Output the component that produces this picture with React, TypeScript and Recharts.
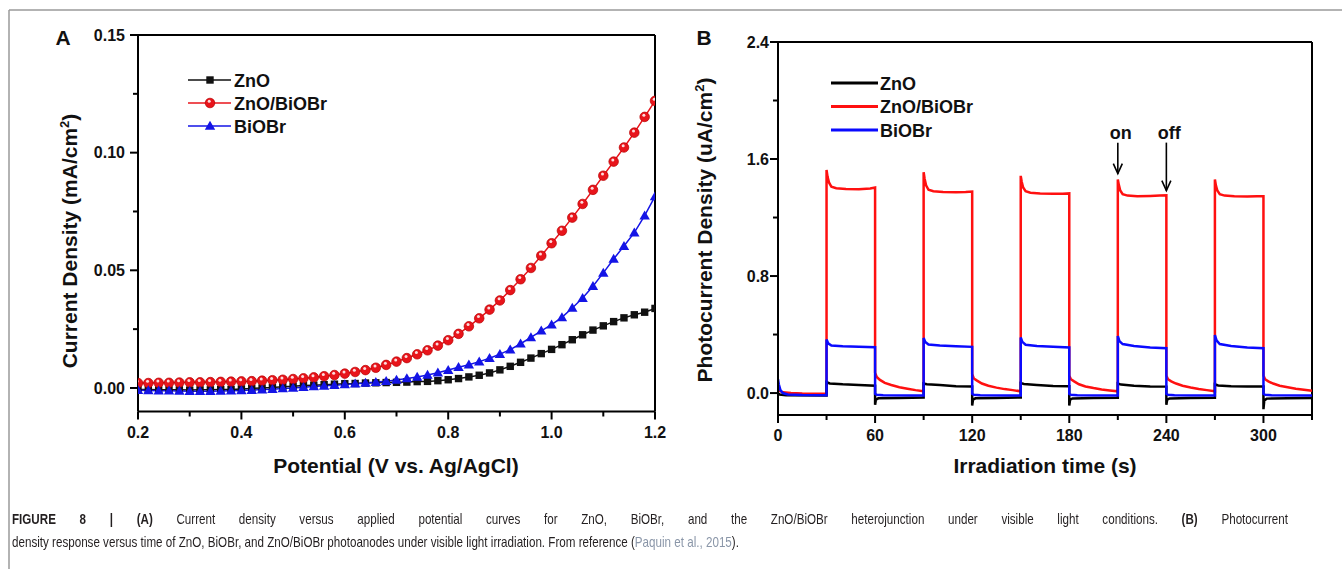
import React from 'react';
import { LineChart, Line, XAxis, YAxis, ReferenceLine, ReferenceDot, Legend } from 'recharts';

// ---- panel A: linear sweep (current density vs potential) ----
const potential = [
  0.2, 0.22, 0.24, 0.26, 0.28, 0.3, 0.32, 0.34, 0.36, 0.38,
  0.4, 0.42, 0.44, 0.46, 0.48, 0.5, 0.52, 0.54, 0.56, 0.58,
  0.6, 0.62, 0.64, 0.66, 0.68, 0.7, 0.72, 0.74, 0.76, 0.78,
  0.8, 0.82, 0.84, 0.86, 0.88, 0.9, 0.92, 0.94, 0.96, 0.98,
  1.0, 1.02, 1.04, 1.06, 1.08, 1.1, 1.12, 1.14, 1.16, 1.18, 1.2,
];
const znoJ = [
  -0.0007, -0.0007, -0.0008, -0.0008, -0.0008, -0.0009, -0.0008, -0.0008, -0.0007, -0.0006,
  -0.0004, -0.0002, 0.0, 0.0002, 0.0005, 0.0007, 0.001, 0.0012, 0.0014, 0.0016,
  0.0018, 0.0019, 0.0021, 0.0022, 0.0023, 0.0024, 0.0025, 0.0027, 0.0028, 0.0031,
  0.0035, 0.004, 0.0047, 0.0054, 0.0064, 0.0077, 0.0092, 0.0109, 0.0127, 0.0146,
  0.0164, 0.0184, 0.0205, 0.0226, 0.0246, 0.0264, 0.0282, 0.0298, 0.0311, 0.0322, 0.0338,
];
const hetJ = [
  0.0021, 0.0021, 0.0022, 0.0022, 0.0023, 0.0024, 0.0024, 0.0025, 0.0026, 0.0027,
  0.0028, 0.0029, 0.0031, 0.0033, 0.0035, 0.0038, 0.0041, 0.0045, 0.005, 0.0055,
  0.0061, 0.0068, 0.0076, 0.0086, 0.0098, 0.0112, 0.0127, 0.0143, 0.016, 0.018,
  0.0203, 0.023, 0.0262, 0.0296, 0.0333, 0.0372, 0.0416, 0.0462, 0.051, 0.0562,
  0.0615, 0.0668, 0.0724, 0.0782, 0.0842, 0.0902, 0.0962, 0.1022, 0.1085, 0.1152, 0.122,
];
const biobrJ = [
  -0.001, -0.0011, -0.0012, -0.0012, -0.0013, -0.0014, -0.0014, -0.0014, -0.0013, -0.0012,
  -0.0011, -0.0009, -0.0007, -0.0005, -0.0002, 0.0, 0.0003, 0.0006, 0.0009, 0.0012,
  0.0015, 0.0018, 0.0021, 0.0025, 0.0029, 0.0034, 0.004, 0.0047, 0.0055, 0.0065,
  0.0076, 0.0088, 0.0099, 0.0112, 0.0126, 0.0144, 0.0163, 0.0188, 0.0215, 0.0243,
  0.0269, 0.03, 0.034, 0.0382, 0.0432, 0.0489, 0.0548, 0.0603, 0.066, 0.0732, 0.0814,
];
const xTicksA = [0.2, 0.3, 0.4, 0.5, 0.6, 0.7, 0.8, 0.9, 1.0, 1.1, 1.2];
const xLabelsA = [0.2, 0.4, 0.6, 0.8, 1.0, 1.2];
const yTicksA = [0, 0.025, 0.05, 0.075, 0.1, 0.125, 0.15];
const yLabelsA = [0, 0.05, 0.1, 0.15];

// ---- panel B: chopped-light photocurrent (t [s], J) ----
const znoTrace: [number, number][] = [
  [0, 0.0], [1, -0.01], [5, -0.015], [30, -0.016],
  [30, 0.075], [32, 0.066], [40, 0.06], [50, 0.055], [60, 0.05],
  [60, -0.08], [60.5, -0.045], [62, -0.036], [75, -0.033], [90, -0.03],
  [90, 0.065], [92, 0.06], [100, 0.055], [110, 0.047], [120, 0.045],
  [120, -0.085], [120.5, -0.045], [122, -0.036], [135, -0.034], [150, -0.03],
  [150, 0.068], [152, 0.062], [160, 0.055], [170, 0.048], [180, 0.046],
  [180, -0.085], [180.5, -0.045], [182, -0.037], [195, -0.034], [210, -0.032],
  [210, 0.065], [212, 0.058], [220, 0.05], [230, 0.045], [240, 0.044],
  [240, -0.08], [240.5, -0.045], [242, -0.037], [255, -0.034], [270, -0.032],
  [270, 0.06], [272, 0.052], [280, 0.046], [290, 0.044], [300, 0.044],
  [300, -0.11], [300.5, -0.05], [302, -0.038], [315, -0.035], [330, -0.034],
];
const hetTrace: [number, number][] = [
  [0, 0.03], [1, 0.015], [3, 0.005], [8, 0.0], [15, -0.003], [30, -0.005],
  [30, 1.525], [30.6, 1.48], [31.5, 1.44], [33, 1.41], [36, 1.4], [42, 1.395], [50, 1.393], [57, 1.398], [60, 1.405],
  [60, 0.14], [61, 0.11], [63, 0.09], [66, 0.07], [70, 0.055], [75, 0.04], [80, 0.03], [85, 0.02], [90, 0.012],
  [90, 1.51], [90.6, 1.465], [91.5, 1.42], [93, 1.39], [96, 1.38], [102, 1.375], [110, 1.372], [116, 1.375], [120, 1.378],
  [120, 0.13], [121, 0.1], [123, 0.085], [126, 0.065], [130, 0.05], [135, 0.037], [140, 0.027], [145, 0.02], [150, 0.012],
  [150, 1.485], [150.6, 1.445], [151.5, 1.405], [153, 1.38], [156, 1.37], [162, 1.365], [170, 1.362], [176, 1.362], [180, 1.365],
  [180, 0.12], [181, 0.095], [183, 0.08], [186, 0.06], [190, 0.045], [195, 0.034], [200, 0.025], [205, 0.018], [210, 0.012],
  [210, 1.46], [210.6, 1.425], [211.5, 1.385], [213, 1.36], [216, 1.35], [222, 1.345], [230, 1.348], [236, 1.35], [240, 1.352],
  [240, 0.12], [241, 0.095], [243, 0.08], [246, 0.065], [250, 0.05], [255, 0.038], [260, 0.028], [265, 0.02], [270, 0.012],
  [270, 1.46], [270.6, 1.42], [271.5, 1.385], [273, 1.36], [276, 1.35], [282, 1.345], [290, 1.343], [296, 1.345], [300, 1.345],
  [300, 0.12], [301, 0.095], [303, 0.08], [306, 0.065], [310, 0.05], [315, 0.04], [320, 0.03], [325, 0.022], [330, 0.015],
];
const biobrTrace: [number, number][] = [
  [0, 0.095], [0.5, 0.06], [1.5, 0.02], [3, 0.0], [6, -0.01], [15, -0.014], [30, -0.015],
  [30, 0.366], [31, 0.34], [33, 0.325], [40, 0.32], [50, 0.316], [60, 0.314],
  [60, -0.005], [61, -0.012], [65, -0.015], [90, -0.016],
  [90, 0.377], [91, 0.35], [93, 0.332], [100, 0.325], [110, 0.32], [120, 0.316],
  [120, -0.005], [121, -0.012], [125, -0.015], [150, -0.016],
  [150, 0.38], [151, 0.35], [153, 0.33], [160, 0.322], [170, 0.316], [180, 0.311],
  [180, -0.005], [181, -0.012], [185, -0.015], [210, -0.016],
  [210, 0.39], [211, 0.355], [213, 0.335], [220, 0.322], [230, 0.312], [240, 0.306],
  [240, -0.005], [241, -0.012], [245, -0.015], [270, -0.016],
  [270, 0.397], [271, 0.36], [273, 0.335], [280, 0.322], [290, 0.312], [300, 0.306],
  [300, -0.005], [301, -0.012], [305, -0.015], [330, -0.016],
];
const xTicksB = [0, 30, 60, 90, 120, 150, 180, 210, 240, 270, 300, 330];
const xLabelsB = [0, 60, 120, 180, 240, 300];
const yTicksB = [0, 0.4, 0.8, 1.2, 1.6, 2.0, 2.4];
const yLabelsB = [0, 0.8, 1.6, 2.4];

const seriesNames = ['ZnO', 'ZnO/BiOBr', 'BiOBr'];

const FONT = '"Liberation Sans", Arial, Helvetica, sans-serif';
const RED_A = '#e8141b';
const BLUE_A = '#1414e6';
const RED_B = '#ff1010';
const BLUE_B = '#0a0aff';
const CAPTION_SQUEEZE = 0.775; // caption face in the figure is a condensed sans

const dataA = potential.map((v, i) => ({ v, zno: znoJ[i], het: hetJ[i], biobr: biobrJ[i] }));
const toPts = (arr: [number, number][]) => arr.map(([t, j]) => ({ t, j }));

const isIn = (list: number[], v: number) => list.some((m) => Math.abs(m - v) < 1e-6);

// draws its own tick line (major longer than minor) + label for major ticks
function makeTick(orient: 'bottom' | 'left', labels: number[], digits: number, gap: number) {
  return (p: any) => {
    const v = p.payload.value;
    const major = isIn(labels, v);
    const len = major ? 8 : 5;
    if (orient === 'bottom') {
      return (
        <g key={`xt${v}`}>
          <line x1={p.x} x2={p.x} y1={p.y} y2={p.y + len} stroke="#000" strokeWidth={2} />
          {major && (
            <text x={p.x} y={p.y + gap} dy="0.71em" textAnchor="middle" fontSize={16} fontWeight="bold" fontFamily={FONT} fill="#111">
              {v.toFixed(digits)}
            </text>
          )}
        </g>
      );
    }
    return (
      <g key={`yt${v}`}>
        <line x1={p.x - len} x2={p.x} y1={p.y} y2={p.y} stroke="#000" strokeWidth={2} />
        {major && (
          <text x={p.x - gap} y={p.y} dy="0.355em" textAnchor="end" fontSize={16} fontWeight="bold" fontFamily={FONT} fill="#111">
            {v.toFixed(digits)}
          </text>
        )}
      </g>
    );
  };
}

const squareDot = (p: any) =>
  p.cx == null ? null : <rect key={`s${p.index}`} x={p.cx - 3.7} y={p.cy - 3.7} width={7.4} height={7.4} fill="#111" />;
const ballDot = (p: any) =>
  p.cx == null ? null : (
    <g key={`b${p.index}`}>
      <circle cx={p.cx} cy={p.cy} r={4.8} fill={RED_A} stroke="#b80000" strokeWidth={0.7} />
      <circle cx={p.cx - 0.8} cy={p.cy - 1.7} r={1.5} fill="#fff" opacity={0.85} />
    </g>
  );
const triDot = (p: any) =>
  p.cx == null ? null : (
    <path key={`t${p.index}`} d={`M${p.cx},${p.cy - 5.2} L${p.cx + 5.2},${p.cy + 3.8} L${p.cx - 5.2},${p.cy + 3.8}Z`} fill={BLUE_A} />
  );

const legendA = () => {
  const colors = ['#111', RED_A, BLUE_A];
  const markers = [squareDot, ballDot, triDot];
  return (
    <svg width={220} height={70} style={{ display: 'block' }}>
      {seriesNames.map((n, i) => {
        const y = 9 + i * 23;
        return (
          <g key={n}>
            <line x1={0} x2={43} y1={y} y2={y} stroke={colors[i]} strokeWidth={1.6} />
            {markers[i]({ cx: 22, cy: y, index: 900 + i })}
            <text x={46} y={y + 6.5} fontSize={18} fontWeight="bold" fontFamily={FONT} fill="#111">{n}</text>
          </g>
        );
      })}
    </svg>
  );
};

const legendB = () => {
  const colors = ['#000', RED_B, BLUE_B];
  return (
    <svg width={220} height={70} style={{ display: 'block' }}>
      {seriesNames.map((n, i) => {
        const y = 10 + i * 23.5;
        return (
          <g key={n}>
            <line x1={0} x2={47} y1={y} y2={y} stroke={colors[i]} strokeWidth={3} />
            <text x={49} y={y + 6.5} fontSize={18} fontWeight="bold" fontFamily={FONT} fill="#111">{n}</text>
          </g>
        );
      })}
    </svg>
  );
};

const arrowShape = (label: string, len: number) => (p: any) => {
  const { cx, cy } = p;
  return (
    <g>
      <line x1={cx} y1={cy - len} x2={cx} y2={cy} stroke="#000" strokeWidth={1.6} />
      <polyline points={`${cx - 4.5},${cy - 10} ${cx},${cy} ${cx + 4.5},${cy - 10}`} fill="none" stroke="#000" strokeWidth={1.6} />
      <text x={cx + 3} y={cy - len - 4} textAnchor="middle" fontSize={18} fontWeight="bold" fontFamily={FONT} fill="#111">{label}</text>
    </g>
  );
};

const axisLine = { stroke: '#000', strokeWidth: 2 };

function PanelA() {
  return (
    <LineChart width={680} height={480} data={dataA} margin={{ top: 35, right: 25, bottom: 28.5, left: 78 }}>
      <XAxis dataKey="v" type="number" domain={[0.2, 1.2]} ticks={xTicksA} interval={0} allowDataOverflow
        tickSize={0} tickMargin={0} tickLine={false} axisLine={axisLine} height={40} tick={makeTick('bottom', xLabelsA, 1, 15)} />
      <YAxis type="number" domain={[-0.01, 0.15]} ticks={yTicksA} interval={0} allowDataOverflow
        tickSize={0} tickMargin={0} tickLine={false} axisLine={axisLine} width={60} tick={makeTick('left', yLabelsA, 2, 13)} />
      <ReferenceLine y={0.15} stroke="#000" strokeWidth={2} />
      <ReferenceLine x={1.2} stroke="#000" strokeWidth={2} />
      <Line dataKey="zno" stroke="#111" strokeWidth={1.5} dot={squareDot} isAnimationActive={false} />
      <Line dataKey="het" stroke={RED_A} strokeWidth={1.5} dot={ballDot} isAnimationActive={false} />
      <Line dataKey="biobr" stroke={BLUE_A} strokeWidth={1.5} dot={triDot} isAnimationActive={false} />
      <Legend layout="vertical" align="center" verticalAlign="middle" content={legendA}
        wrapperStyle={{ left: 188, top: 71, width: 220, height: 70 }} />
    </LineChart>
  );
}

function PanelB() {
  return (
    <LineChart width={662} height={480} margin={{ top: 42, right: 30, bottom: 25, left: 38 }}>
      <XAxis dataKey="t" type="number" domain={[0, 330]} ticks={xTicksB} interval={0} allowDataOverflow
        tickSize={0} tickMargin={0} tickLine={false} axisLine={axisLine} height={40} tick={makeTick('bottom', xLabelsB, 0, 15)} />
      <YAxis type="number" domain={[-0.15, 2.4]} ticks={yTicksB} interval={0} allowDataOverflow
        tickSize={0} tickMargin={0} tickLine={false} axisLine={axisLine} width={60} tick={makeTick('left', yLabelsB, 1, 9)} />
      <ReferenceLine y={2.4} stroke="#000" strokeWidth={2} />
      <ReferenceLine x={330} stroke="#000" strokeWidth={2} />
      <Line data={toPts(hetTrace)} dataKey="j" stroke={RED_B} strokeWidth={2.5} dot={false} isAnimationActive={false} />
      <Line data={toPts(znoTrace)} dataKey="j" stroke="#000" strokeWidth={2.5} dot={false} isAnimationActive={false} />
      <Line data={toPts(biobrTrace)} dataKey="j" stroke={BLUE_B} strokeWidth={2.5} dot={false} isAnimationActive={false} />
      <ReferenceDot x={210} y={1.5} r={0} shape={arrowShape('on', 31)} />
      <ReferenceDot x={240} y={1.384} r={0} shape={arrowShape('off', 48)} />
      <Legend layout="vertical" align="center" verticalAlign="middle" content={legendB}
        wrapperStyle={{ left: 151, top: 73, width: 220, height: 70 }} />
    </LineChart>
  );
}

export default function App() {
  const title = { fontSize: 21, fontWeight: 'bold' as const, fontFamily: FONT, fill: '#111' };
  const caption: React.CSSProperties = {
    position: 'absolute', left: 0, fontFamily: FONT, fontSize: 15, lineHeight: '18px', color: '#231f20',
  };
  return (
    <div style={{ position: 'absolute', left: 0, top: 0, width: 1342, height: 569, background: '#fff' }}>
      <svg width={1342} height={569} style={{ position: 'absolute', left: 0, top: 0 }}>
        <line x1={9} y1={10} x2={1342} y2={10} stroke="#9a9a9a" strokeWidth={1.5} />
        <line x1={9} y1={10} x2={9} y2={569} stroke="#9a9a9a" strokeWidth={1.5} />
        <text x={63} y={45} textAnchor="middle" {...title}>A</text>
        <text x={704} y={45} textAnchor="middle" {...title}>B</text>
        <text x={396} y={473} textAnchor="middle" {...title}>Potential (V vs. Ag/AgCl)</text>
        <text x={1045} y={473} textAnchor="middle" {...title}>Irradiation time (s)</text>
        <text x={77} y={241} textAnchor="middle" transform="rotate(-90 77 241)" {...title}>
          Current Density (mA/cm<tspan fontSize={13} dy={-8}>2</tspan><tspan dy={8}>)</tspan>
        </text>
        <text x={712} y={230} textAnchor="middle" transform="rotate(-90 712 230)" {...title}>
          Photocurrent Density (uA/cm<tspan fontSize={13} dy={-8}>2</tspan><tspan dy={8}>)</tspan>
        </text>
      </svg>
      <div style={{ position: 'absolute', left: 0, top: 0 }}>
        <PanelA />
      </div>
      <div style={{ position: 'absolute', left: 680, top: 0 }}>
        <PanelB />
      </div>
      <div style={{ position: 'absolute', left: 12, top: 0, transform: `scaleX(${CAPTION_SQUEEZE})`, transformOrigin: '0 0' }}>
        <div style={{ ...caption, top: 510, width: 1276 / CAPTION_SQUEEZE, textAlign: 'justify', textAlignLast: 'justify' }}>
          <b>FIGURE 8 | (A)</b> Current density versus applied potential curves for ZnO, BiOBr, and the ZnO/BiOBr heterojunction under visible light conditions. <b>(B)</b> Photocurrent
        </div>
        <div style={{ ...caption, top: 533, whiteSpace: 'nowrap' }}>
          density response versus time of ZnO, BiOBr, and ZnO/BiOBr photoanodes under visible light irradiation. From reference (<span style={{ color: '#8a96a8' }}>Paquin et al., 2015</span>).
        </div>
      </div>
    </div>
  );
}
